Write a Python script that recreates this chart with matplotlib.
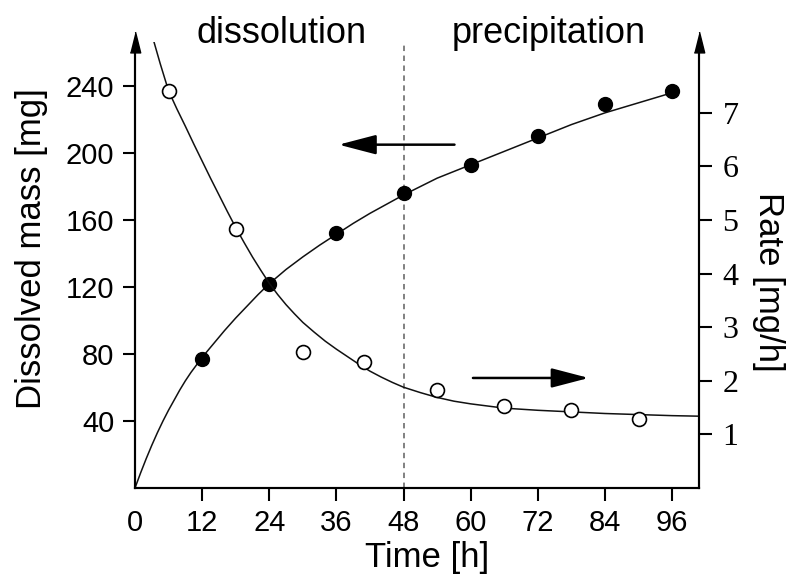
import matplotlib
matplotlib.use('Agg')
import matplotlib.pyplot as plt

plt.rcParams['font.family'] = ['Liberation Sans', 'DejaVu Sans']

# measured points (filled: dissolved mass, open: rate)
mass_t = [12, 24, 36, 48, 60, 72, 84, 96]
mass_mg = [77, 122, 152, 176, 193, 210, 229, 237]
rate_t = [6, 18, 30, 41, 54, 66, 78, 90]
rate_mgh = [7.41, 4.84, 2.53, 2.36, 1.82, 1.53, 1.45, 1.29]

# fitted curves
mass_fit_t = [0, 1, 2, 3, 4, 5, 6, 7, 8, 9, 10, 11, 12, 14, 16, 18, 20, 22, 24, 27, 30,
              33, 36, 39, 42, 45, 48, 51, 54, 57, 60, 66, 72, 78, 84, 90, 96]
mass_fit = [0, 9, 17.5, 25.5, 33, 40, 46.5, 52.5, 58.5, 64, 69, 73.5, 78, 86, 94, 101.5,
            108.5, 115.5, 122, 130.5, 138, 145, 151.5, 158, 164, 169.5, 175, 180, 185, 189,
            193, 201, 209, 217, 224, 230, 236]
rate_fit_t = [3.4, 4.5, 6, 7.5, 9, 10.5, 12, 13.5, 15, 16.5, 18, 19.5, 21, 22.5, 24, 25.5,
              27, 28.5, 30, 32, 34, 36, 38, 40, 42, 44, 46, 48, 51, 54, 57, 60, 63, 66, 72,
              78, 84, 90, 96, 100.8]
rate_fit = [8.32, 7.92, 7.41, 7.07, 6.75, 6.42, 6.10, 5.78, 5.47, 5.16, 4.86, 4.58, 4.31,
            4.06, 3.82, 3.61, 3.42, 3.25, 3.09, 2.91, 2.74, 2.59, 2.45, 2.31, 2.18, 2.07,
            1.97, 1.88, 1.78, 1.69, 1.62, 1.57, 1.53, 1.49, 1.45, 1.42, 1.39, 1.37, 1.35, 1.34]

xticks = [0, 12, 24, 36, 48, 60, 72, 84, 96]
mass_ticks = [40, 80, 120, 160, 200, 240]
rate_ticks = [1, 2, 3, 4, 5, 6, 7]

W, H = 789, 579
fig = plt.figure(figsize=(W / 100, H / 100), dpi=100)
ax = fig.add_axes([135 / W, (H - 488) / H, 564 / W, 446 / H])
ax2 = ax.twinx()

ax.set_xlim(0, 100.8)
ax.set_ylim(0, 266.3)
ax2.set_ylim(0, 266.3 / 32)

ax.axvline(48, color='#777777', lw=1.3, ls=(0, (3, 2.5)), zorder=1)

ax.plot(mass_fit_t, mass_fit, color='#111111', lw=1.1, zorder=2)
ax.plot(mass_t, mass_mg, 'o', color='black', ms=10, zorder=3)
ax2.plot(rate_fit_t, rate_fit, color='#111111', lw=1.1, zorder=2)
ax2.plot(rate_t, rate_mgh, 'o', mfc='white', mec='black', mew=1.2, ms=10, zorder=3)

# direction arrows
ax.annotate('', xy=(36.4, 205), xytext=(57.1, 205),
            arrowprops=dict(arrowstyle='-|>,head_length=2.3,head_width=0.6', color='black',
                            lw=1.8, mutation_scale=10, shrinkA=0, shrinkB=0))
ax.annotate('', xy=(81.1, 65.7), xytext=(60.4, 65.7),
            arrowprops=dict(arrowstyle='-|>,head_length=2.3,head_width=0.6', color='black',
                            lw=1.8, mutation_scale=10, shrinkA=0, shrinkB=0))

for a in (ax, ax2):
    a.spines['top'].set_visible(False)
    for s in a.spines.values():
        s.set_linewidth(1.5)

ax.set_xticks(xticks)
ax.set_xticklabels([str(v) for v in xticks], fontsize=21)
ax.set_yticks(mass_ticks)
ax.set_yticklabels([str(v) for v in mass_ticks], fontsize=21)
ax.tick_params(axis='both', direction='out', length=9, width=1.5, pad=6)
ax.xaxis.get_major_ticks()[0].tick1line.set_visible(False)

ax2.set_yticks(rate_ticks)
ax2.set_yticklabels([str(v) for v in rate_ticks], family='Liberation Serif', fontsize=23)
ax2.tick_params(axis='y', direction='out', length=9, width=1.5, pad=8)

# arrowheads on the two vertical axes
head = [(-0.5, -1), (0.5, -1), (0, 1)]
ax.plot([0], [1], marker=head, ms=15, color='black', transform=ax.transAxes, clip_on=False, zorder=5)
ax.plot([1], [1], marker=head, ms=15, color='black', transform=ax.transAxes, clip_on=False, zorder=5)

fig.text(32 / W, 1 - 249 / H, 'Dissolved mass [mg]', rotation=90, ha='center', va='center', fontsize=25)
fig.text(769 / W, 1 - 282 / H, 'Rate [mg/h]', rotation=270, ha='center', va='center', fontsize=25)
fig.text(427 / W, 1 - 557 / H, 'Time [h]', ha='center', va='center', fontsize=25)
fig.text(282 / W, 1 - 43 / H, 'dissolution', ha='center', va='baseline', fontsize=26)
fig.text(549 / W, 1 - 43 / H, 'precipitation', ha='center', va='baseline', fontsize=26)

fig.savefig('out.png', dpi=100, facecolor='white')
